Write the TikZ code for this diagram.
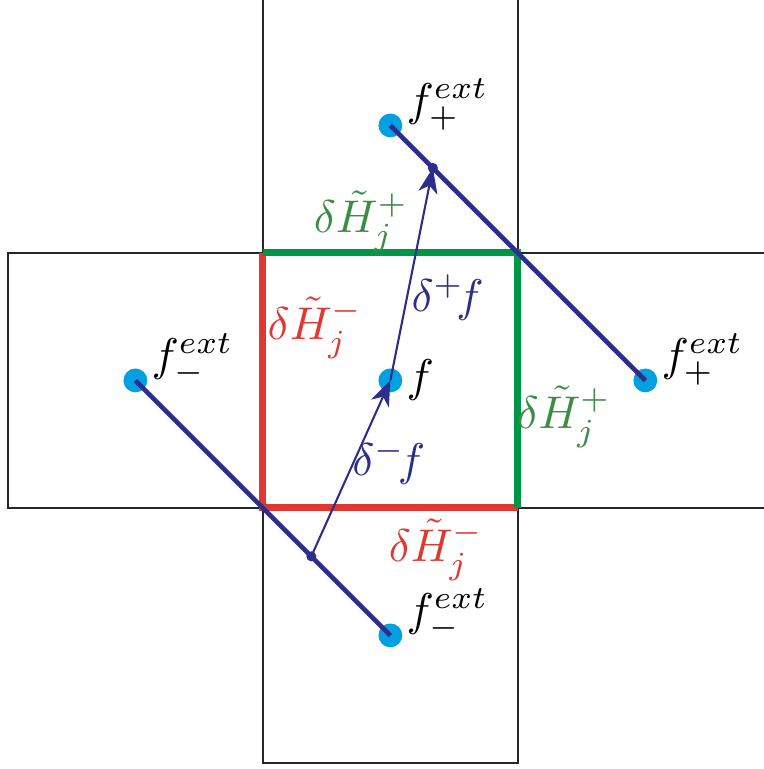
\documentclass[tikz,border=0pt]{standalone}
\usetikzlibrary{calc,arrows.meta}
\definecolor{hred}{RGB}{222,56,49}
\definecolor{hgreen}{RGB}{0,150,72}
\definecolor{hgreentxt}{RGB}{60,140,70}
\definecolor{fblue}{RGB}{0,160,225}
\definecolor{navy}{RGB}{45,45,140}
\begin{document}
\begin{tikzpicture}[x=1.955cm,y=1.955cm,
  cell/.style={draw=black!85,line width=0.45pt},
  face/.style={line width=1.5pt},
  link/.style={draw=navy,line width=1pt},
  grad/.style={draw=navy,line width=0.45pt,-{Stealth[length=5.5pt,width=4.2pt,inset=1.6pt]}}]
  \useasboundingbox (-1.031,-1.024) rectangle (1.965,1.992);
  \clip (-1.031,-1.024) rectangle (1.965,1.992);
  \coordinate (f) at (0.5,0.5);
  \coordinate (N) at (0.5,1.5); \coordinate (E) at (1.5,0.5); \coordinate (W) at (-0.5,0.5); \coordinate (S) at (0.5,-0.5);
  \coordinate (P) at ($(N)!1/6!(E)$); \coordinate (M) at (0.19,-0.19);
  % cells
  \foreach \x/\y in {0/0,0/1,-1/0,1/0,0/-1}\draw[cell] (\x,\y) rectangle ++(1,1);
  \draw[face,hred] (1,0)--(0,0)--(0,1);
  \draw[face,hgreen] (0,1)--(1,1)--(1,0);
  % values
  \foreach \p in {f,N,E,W,S}\fill[fblue] (\p) circle (2.6pt);
  \draw[link] (N)--(E); \draw[link] (W)--(S);
  \foreach \p in {P,M}\fill[navy] (\p) circle (1.1pt);
  \draw[grad] (M)--(f); \draw[grad] (f)--(P);
  \foreach \p/\s in {N/+,E/+,W/-,S/-}\node[right,yshift=4.5pt] (l\p) at (\p) {$f^{ext}_\s$};
  \node[right] (lf) at (f) {$f$};
  \node[navy] (dp) at (0.725,0.824) {$\delta^{+}\!f$};
  \node[navy] (dm) at (0.494,0.18) {$\delta^{-}\!f$};
  \node[hred] (hw) at (0.205,0.706) {$\delta\tilde H_j^-$};
  \node[hred] (hs) at (0.68,-0.165) {$\delta\tilde H_j^-$};
  \node[hgreentxt] (hn) at (0.385,1.125) {$\delta\tilde H_j^+$};
  \node[hgreentxt] (he) at (1.18,0.357) {$\delta\tilde H_j^+$};
\end{tikzpicture}
\end{document}
